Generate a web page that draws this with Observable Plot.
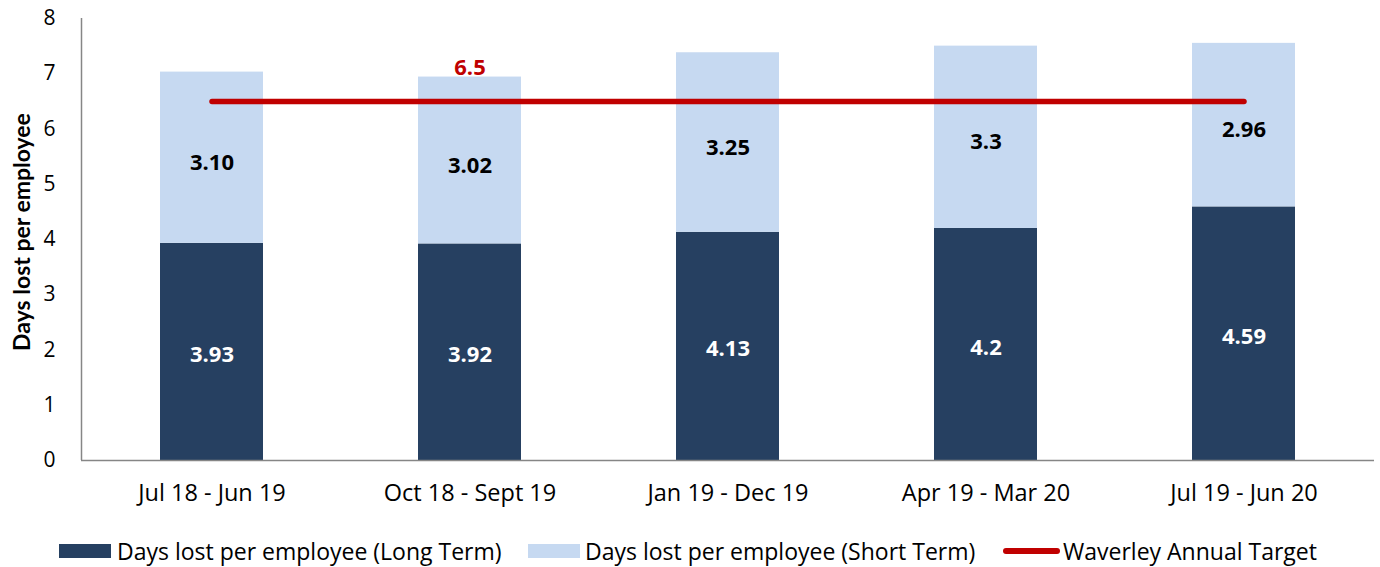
<!DOCTYPE html>
<html>
<head>
<meta charset="utf-8">
<script src="https://cdn.jsdelivr.net/npm/d3@7"></script>
<script src="https://cdn.jsdelivr.net/npm/@observablehq/plot@0.6"></script>
<style>
  html, body { margin: 0; padding: 0; background: #fff; }
  body { width: 1380px; height: 567px; overflow: hidden; font-family: "Open Sans", sans-serif; }
  #wrap { position: relative; width: 1380px; height: 567px; }
  #legend { position: absolute; left: 0; top: 537px; width: 1380px; height: 28px; font-size: 23px; color: #000; }
  .abs { position: absolute; }
  .txt { top: 0; line-height: 28px; white-space: nowrap; }
</style>
</head>
<body>
<div id="wrap">
  <div id="chart"></div>
  <div id="legend"></div>
</div>
<script>
const periods = ["Jul 18 - Jun 19", "Oct 18 - Sept 19", "Jan 19 - Dec 19", "Apr 19 - Mar 20", "Jul 19 - Jun 20"];
const longTerm = [3.93, 3.92, 4.13, 4.2, 4.59];
const shortTerm = [3.10, 3.02, 3.25, 3.3, 2.96];
const longLabels = ["3.93", "3.92", "4.13", "4.2", "4.59"];
const shortLabels = ["3.10", "3.02", "3.25", "3.3", "2.96"];
const target = [6.5, 6.5, 6.5, 6.5, 6.5];
const yTicks = [0, 1, 2, 3, 4, 5, 6, 7, 8];
const seriesNames = ["Days lost per employee (Long Term)", "Days lost per employee (Short Term)"];
const targetName = "Waverley Annual Target";
const yTitle = "Days lost per employee";

const colLong = "#264061";
const colShort = "#C6D9F1";
const colTarget = "#C00000";
const axisCol = "#868686";

const longRows = periods.map((p, i) => ({period: p, y0: 0, y1: longTerm[i], label: longLabels[i]}));
const shortRows = periods.map((p, i) => ({period: p, y0: longTerm[i], y1: longTerm[i] + shortTerm[i], label: shortLabels[i]}));
const targetRows = periods.map((p, i) => ({period: p, value: target[i]}));

const font = "'Open Sans', sans-serif";
const svgNS = "http://www.w3.org/2000/svg";

const leftAxisLine = (index, scales, values, dimensions) => {
  const g = document.createElementNS(svgNS, "line");
  const x = dimensions.marginLeft + 0.5;
  g.setAttribute("x1", x);
  g.setAttribute("x2", x);
  g.setAttribute("y1", dimensions.marginTop);
  g.setAttribute("y2", dimensions.height - dimensions.marginBottom);
  g.setAttribute("stroke", axisCol);
  g.setAttribute("stroke-width", 1.5);
  return g;
};

const chart = Plot.plot({
  width: 1380,
  height: 520,
  marginLeft: 81,
  marginRight: 6,
  marginTop: 18,
  marginBottom: 60,
  style: {fontFamily: font, fontSize: "21px", color: "#000", background: "#fff"},
  x: {domain: periods, paddingInner: 0.6, paddingOuter: 0.3, label: null, tickSize: 0, tickPadding: 24},
  y: {domain: [0, 8], ticks: yTicks, label: null, tickSize: 0, tickPadding: 26},
  marks: [
    Plot.barY(longRows, {x: "period", y1: "y0", y2: "y1", fill: colLong}),
    Plot.barY(shortRows, {x: "period", y1: "y0", y2: "y1", fill: colShort}),
    Plot.ruleY([0], {stroke: axisCol, strokeWidth: 1.5}),
    leftAxisLine,
    Plot.line(targetRows, {x: "period", y: "value", stroke: colTarget, strokeWidth: 5.5}),
    Plot.text(longRows, {x: "period", y: d => (d.y0 + d.y1) / 2, text: "label", fill: "#fff", fontWeight: "bold", fontSize: 22, fontFamily: font, dy: 3}),
    Plot.text(shortRows, {x: "period", y: d => (d.y0 + d.y1) / 2, text: "label", fill: "#000", fontWeight: "bold", fontSize: 22, fontFamily: font, dy: 5}),
    Plot.text([targetRows[1]], {x: "period", y: "value", text: d => String(d.value), fill: colTarget, fontWeight: "bold", fontSize: 22, fontFamily: font, dy: -33})
  ]
});
chart.style.overflow = "visible";

// Larger x tick labels
chart.querySelectorAll('g[aria-label^="x-axis"]').forEach(g => {
  g.setAttribute("font-size", "23.5");
  g.style.fontSize = "23.5px";
});

// Y axis title
const title = document.createElementNS(svgNS, "text");
title.setAttribute("transform", "translate(30,232) rotate(-90)");
title.setAttribute("text-anchor", "middle");
title.setAttribute("font-weight", "bold");
title.setAttribute("font-size", "23");
title.setAttribute("font-family", "Lato, 'Open Sans', sans-serif");
title.setAttribute("fill", "#000");
title.textContent = yTitle;
chart.appendChild(title);

document.getElementById("chart").appendChild(chart);

// Legend
const legend = document.getElementById("legend");
const items = [
  {name: seriesNames[0], kind: "box", color: colLong, x0: 59, x1: 111, tx: 117},
  {name: seriesNames[1], kind: "box", color: colShort, x0: 528, x1: 580, tx: 585},
  {name: targetName, kind: "line", color: colTarget, x0: 1003, x1: 1060, tx: 1063}
];
items.forEach(it => {
  const s = document.createElement("div");
  s.className = "abs";
  s.style.left = it.x0 + "px";
  s.style.width = (it.x1 - it.x0) + "px";
  s.style.background = it.color;
  if (it.kind === "box") {
    s.style.top = "7px";
    s.style.height = "14px";
  } else {
    s.style.top = "11px";
    s.style.height = "6px";
    s.style.borderRadius = "3px";
  }
  legend.appendChild(s);
  const t = document.createElement("div");
  t.className = "abs txt";
  t.style.left = it.tx + "px";
  t.textContent = it.name;
  legend.appendChild(t);
});
</script>
</body>
</html>
